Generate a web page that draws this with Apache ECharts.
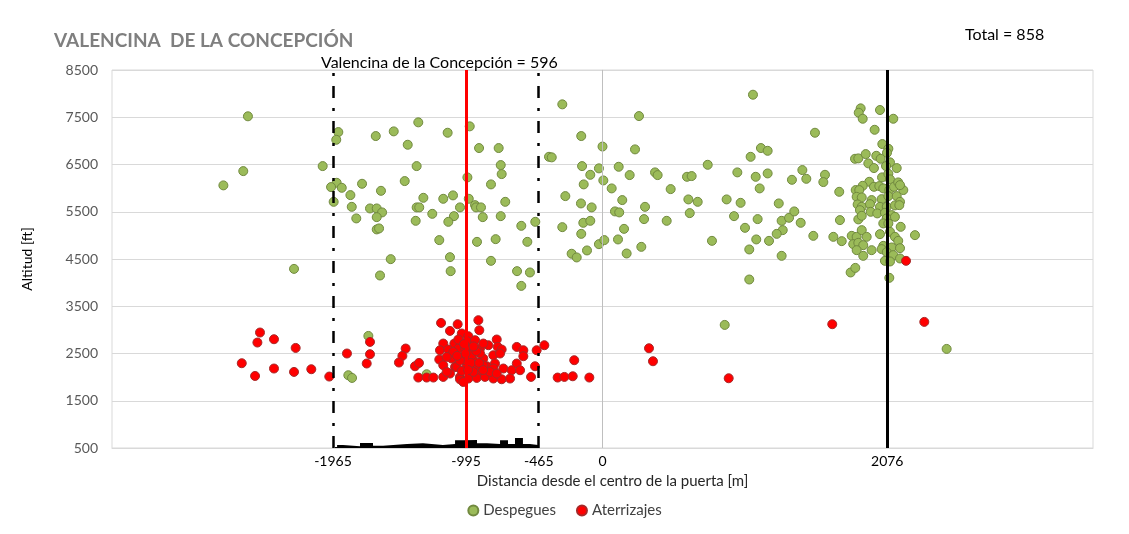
<!DOCTYPE html>
<html>
<head>
<meta charset="utf-8">
<script src="https://cdn.jsdelivr.net/npm/echarts@6/dist/echarts.min.js"></script>
<style>
  html, body { margin: 0; padding: 0; background: #fff; }
  #main { width: 1129px; height: 534px; }
</style>
</head>
<body>
<div id="main"></div>
<script>
// x = distance from gate centre [m], y = altitude [ft]
var despegues = [
  [-2764,6058],[-2619,6360],[-2585,7520],[-2249,4291],[-2040,6466],[-1926,7186],[-1941,7023],[-1938,6113],[-1979,6022],[-1960,5710],
  [-1653,7102],[-1522,7201],[-1420,6918],[-1343,7392],[-1355,6466],[-1901,6007],[-1753,6092],[-1838,5852],[-1615,5943],[-1442,6149],
  [-1828,5604],[-1695,5570],[-1646,5570],[-1607,5486],[-1646,5386],[-1795,5359],[-1646,5126],[-1629,5147],[-1355,5592],[-1336,5592],
  [-1362,5308],[-1544,4497],[-1622,4151],
  [-1129,7172],[-968,7307],[-900,6848],[-757,6848],[-742,6488],[-735,6297],[-985,6227],[-813,6079],[-1306,5795],[-1161,5774],
  [-1090,5846],[-975,5774],[-709,5710],[-1039,5592],[-929,5640],[-922,5592],[-886,5592],[-1241,5456],[-1083,5407],[-1124,5287],
  [-873,5386],[-742,5407],[-1190,4900],[-915,4863],[-779,4920],[-1112,4539],[-1107,4243],[-813,4461],[-592,5202],[-548,4863],
  [-490,5287],[-623,4243],[-529,4215],[-592,3931],
  [-293,7773],[-390,6663],[-370,6651],[-155,7102],[0,6880],[-149,6466],[-89,6282],[-137,6079],[-26,6418],[-271,5831],[-157,5676],
  [-79,5592],[-293,5174],[-140,5266],[-89,5308],[-155,5032],[-26,4814],[-225,4611],[-188,4533],[-113,4681],
  [1097,7977],[266,7525],[237,6820],[1549,7172],[1080,6663],[1155,6848],[1204,6790],[118,6452],[198,6276],[6,6163],[67,5994],
  [383,6333],[402,6276],[616,6240],[650,6255],[767,6494],[497,5979],[983,6333],[1117,6240],[1204,6311],[1146,5994],[1457,6382],
  [1381,6176],[1486,6197],[144,5747],[310,5604],[91,5507],[122,5486],[303,5344],[468,5308],[626,5761],[694,5710],[636,5471],
  [905,5761],[1007,5689],[959,5407],[1039,5160],[1131,5344],[1285,5676],[1306,5308],[1314,5111],[1360,5372],[1398,5507],[1445,5266],
  [1270,5032],[157,5138],[113,4914],[13,4900],[176,4617],[283,4757],[798,4884],[1121,4914],[1214,4884],[1070,4702],[1306,4567],
  [1070,4066],[1537,4990],
  [1622,6282],[1610,6128],[1726,5922],[1731,5323],[1683,4969],[1744,4878],[1809,4215],[1843,4312],
  [1882,7688],[1868,7595],[1897,7468],[2023,7653],[2120,7468],[1984,7235],[2040,6932],[2084,6833],[2074,6748],[1841,6621],[1865,6629],
  [1919,6720],[1996,6684],[2028,6621],[1938,6524],[1979,6424],[2096,6545],[2067,6466],[2145,6424],[2038,6227],[2084,6303],[2096,6185],
  [1945,6134],[1897,6049],[1979,6028],[2018,6043],[2047,5994],[1846,5959],[1872,5959],[2091,5959],[2125,6028],[2156,6121],[2193,5959],
  [2169,6064],[1853,5816],[1890,5803],[2035,5767],[2084,5831],[1962,5747],[2145,5831],[2169,5710],[1860,5655],[1890,5604],[1950,5661],
  [2023,5604],[2072,5604],[2132,5634],[2164,5640],[1877,5534],[1955,5499],[2003,5465],[2059,5478],[2108,5429],[1865,5338],[2072,5359],
  [2132,5393],[1890,5414],[2047,5253],[2084,5253],[2174,5181],[1817,4990],[1853,4969],[1890,5111],[1926,4969],[2023,5026],[2096,5075],
  [2132,4969],[1828,4814],[1865,4842],[1901,4793],[2047,4778],[2108,4744],[2156,4884],[2169,4729],[1853,4687],[1901,4567],[1962,4687],
  [2035,4709],[2072,4645],[2120,4582],[2059,4461],[2096,4448],[2169,4511],[2278,5005],[2091,4101],
  [-1707,2872],[-1853,2040],[-1826,1983],[-1282,2061],[891,3105],[2509,2597]
];

var aterrizajes = [
  [-2497,2944],[-2516,2732],[-2395,2802],[-2237,2618],[-2630,2294],[-2533,2025],[-2395,2182],[-2249,2110],[-2123,2167],[-1992,2012],
  [-1863,2500],[-1695,2745],[-1695,2485],[-1719,2288],[-1435,2605],[-1459,2449],[-1484,2309],[-1367,2230],[-1338,2300],[-1343,1991],
  [-1282,1991],[-1233,1991],
  [-424,2675],[-480,2569],[-492,2230],[-521,2004],[-327,1991],[-278,2004],[-217,2018],[-206,2358],[-96,1991],[339,2611],[368,2336],
  [920,1976],[1675,3120],[2346,3169],[2213,4461],
  [-1177,3147],[-1056,3120],[-905,3205],[-1112,2978],[-1026,2923],[-978,2866],[-898,2993],[-1161,2711],[-1080,2711],[-1185,2569],
  [-1124,2584],[-1051,2605],[-966,2639],[-893,2605],[-832,2675],[-771,2796],[-764,2639],[-735,2584],[-625,2639],[-577,2569],
  [-1190,2372],[-1099,2393],[-1015,2427],[-942,2358],[-869,2393],[-796,2463],[-747,2500],[-577,2442],[-625,2288],
  [-1161,2252],[-1075,2216],[-990,2252],[-917,2216],[-844,2230],[-784,2288],
  [-1112,2076],[-1039,2004],[-966,2040],[-881,2076],[-796,2182],[-723,2182],[-662,2146],[-601,2146],[-1161,2004],
  [-1039,1955],[-978,1970],[-917,1983],[-857,2004],[-796,1970],[-735,1955],[-674,1970],
  [-1063,2216],[-1026,2131],[-1002,2358],[-953,2463],[-1088,2533],[-893,2500],[-1002,2605],
  [-990,2766],[-929,2781],[-1051,2796],[-869,2711],[-1136,2427],[-942,2110],[-869,2252],[-1136,2110],[-1015,1898],[-820,2110],[-771,2076],
  [-1000,2500],[-960,2300],[-1040,2350],[-920,2550],[-980,2150],[-1060,2450],[-900,2300],[-940,2650],[-1010,2700],[-870,2150]
];

// ground profile under the approach area
var perfilX = [-1950,-1935,-1892,-1768,-1673,-1600,-1425,-1309,-1163,-1075,-1017,-915,-842,-747,-689,-638,-580,-529,-470];
var perfilH = [520,564,536,606,547,585,600,565,585,663,670,600,585,663,585,712,585,565,565];

var xTicks = [-1965, -995, -465, 0, 2076];
var limitesZona = [-1965, -465];
var centroZona = -995;
var puerta = 2076;

var perfil = perfilX.map(function(x, i) { return [x, perfilH[i]]; });

var chart = echarts.init(document.getElementById('main'));
var font = 'Lato, "Open Sans", sans-serif';
var plain = function(v) { return String(v); };

var option = {
  animation: false,
  textStyle: { fontFamily: font },
  title: [
    { text: 'VALENCINA  DE LA CONCEPCIÓN', left: 49, top: 26,
      textStyle: { fontSize: 19, fontWeight: 'bold', color: '#7F7F7F', fontFamily: font } },
    { text: 'Total = 858', left: 960, top: 22,
      textStyle: { fontSize: 16, fontWeight: 'normal', color: '#000', fontFamily: font } },
    { text: 'Valencina de la Concepción = 596', left: 316, top: 50,
      textStyle: { fontSize: 16, fontWeight: 'normal', color: '#000', fontFamily: font } }
  ],
  legend: {
    data: ['Despegues', 'Aterrizajes'],
    bottom: 11, left: 'center',
    icon: 'circle', itemWidth: 10, itemHeight: 10, itemGap: 20,
    textStyle: { fontSize: 15, color: '#404040', fontFamily: font }
  },
  grid: { left: 112, right: 36, top: 70, bottom: 86, show: true, borderColor: '#D9D9D9', borderWidth: 1 },
  xAxis: {
    type: 'value', min: -3576, max: 3576,
    name: 'Distancia desde el centro de la puerta [m]',
    nameLocation: 'middle', nameGap: 26,
    nameTextStyle: { fontSize: 15, color: '#262626', padding: [0, 0, 0, 20] },
    axisLine: { lineStyle: { color: '#D9D9D9' } },
    axisTick: { show: false },
    splitLine: { show: false },
    axisLabel: { customValues: xTicks, fontSize: 14, color: '#000', margin: 6, formatter: plain }
  },
  yAxis: {
    type: 'value', min: 500, max: 8500, interval: 1000,
    name: 'Altitud [ft]', nameLocation: 'middle', nameGap: 78,
    nameTextStyle: { fontSize: 14, color: '#000' },
    axisLine: { show: true, lineStyle: { color: '#D9D9D9' } },
    axisTick: { show: false },
    splitLine: { lineStyle: { color: '#D9D9D9', width: 1 } },
    axisLabel: { fontSize: 14, color: '#595959', margin: 14, formatter: plain }
  },
  series: [
    {
      name: 'perfil', type: 'line', step: 'end', data: perfil,
      symbol: 'none', lineStyle: { width: 0 }, areaStyle: { color: '#000', opacity: 1 },
      silent: true, z: 1,
      markLine: {
        silent: true, symbol: ['none', 'none'], label: { show: false },
        data: [
          { xAxis: 0, lineStyle: { color: '#BFBFBF', width: 1, type: 'solid' } },
          { xAxis: limitesZona[0], lineStyle: { color: '#000', width: 2.5, type: [12, 10, 3, 10] } },
          { xAxis: limitesZona[1], lineStyle: { color: '#000', width: 2.5, type: [12, 10, 3, 10] } },
          { xAxis: centroZona, lineStyle: { color: '#FF0000', width: 3, type: 'solid' } },
          { xAxis: puerta, lineStyle: { color: '#000', width: 3, type: 'solid' } }
        ]
      }
    },
    {
      name: 'Despegues', type: 'scatter', data: despegues, symbolSize: 9, z: 2,
      itemStyle: { color: '#9BBB59', borderColor: '#71893F', borderWidth: 1, opacity: 1 }
    },
    {
      name: 'Aterrizajes', type: 'scatter', data: aterrizajes, symbolSize: 9, z: 3,
      itemStyle: { color: '#FF0000', borderColor: '#A52A2A', borderWidth: 1, opacity: 1 }
    }
  ]
};

chart.setOption(option);
window.addEventListener('resize', function() { chart.resize(); });
</script>
</body>
</html>
